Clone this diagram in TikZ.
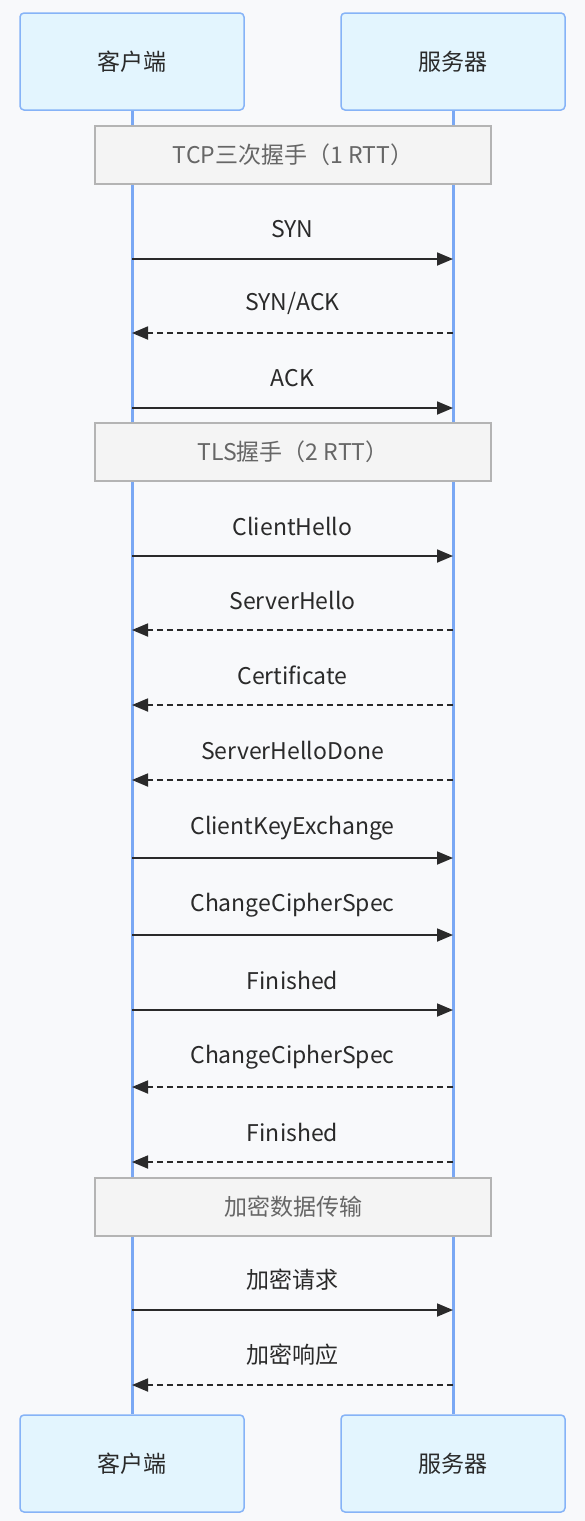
\documentclass[tikz,border=0pt]{standalone}
\usepackage{fontspec}
\setmainfont{Noto Sans CJK SC}
\usetikzlibrary{arrows.meta,positioning}
\definecolor{PageBg}{HTML}{F8F9FB}
\definecolor{ActorFill}{HTML}{E3F5FE}
\definecolor{ActorLine}{HTML}{86B3F7}
\definecolor{LifeLine}{HTML}{7AA8F4}
\definecolor{NoteFill}{HTML}{F4F4F4}
\definecolor{NoteLine}{HTML}{B4B4B4}
\definecolor{MsgInk}{HTML}{2A2A2A}
\definecolor{NoteInk}{HTML}{666666}

\tikzset{
  actor/.style={rectangle,rounded corners=4pt,draw=ActorLine,line width=1.5pt,
    fill=ActorFill,minimum width=224pt,minimum height=97pt,inner sep=0pt,
    font=\fontsize{23}{27}\selectfont,text=MsgInk},
  notebox/.style={rectangle,draw=NoteLine,line width=1.5pt,fill=NoteFill,
    minimum width=396pt,minimum height=58pt,inner sep=0pt,
    font=\fontsize{23}{27}\selectfont,text=NoteInk},
  msg/.style={draw=MsgInk,line width=1.8pt,-{Triangle[length=16pt,width=13pt]}},
  reply/.style={msg,dash pattern=on 6pt off 4pt},
  msglabel/.style={font=\fontsize{23}{27}\selectfont,text=MsgInk}
}

\begin{document}
\begin{tikzpicture}[x=1pt,y=-1pt]
  \fill[PageBg] (0,0) rectangle (585,1521);
  \useasboundingbox (0,0) rectangle (585,1521);

  % participants
  \node[actor] (client) at (132,61.5) {客户端};
  \node[actor] (server) at (453,61.5) {服务器};
  \node[actor] (clientB) at (132,1463.5) {客户端};
  \node[actor] (serverB) at (453,1463.5) {服务器};

  % lifelines
  \draw[LifeLine,line width=3pt] (client.south) -- (clientB.north);
  \draw[LifeLine,line width=3pt] (server.south) -- (serverB.north);

  % phases
  \node[notebox] (tcp) at (293,155) {TCP三次握手（1 RTT）};
  \node[notebox] (tls) at (293,452) {TLS握手（2 RTT）};
  \node[notebox] (data) at (293,1207) {加密数据传输};

  % messages: y / label / style
  \foreach \y/\txt/\kind [count=\i] in {
      259/SYN/c2s, 333/SYN\slash ACK/s2c, 408/ACK/c2s,
      556/ClientHello/c2s, 630/ServerHello/s2c, 705/Certificate/s2c,
      780/ServerHelloDone/s2c, 858/ClientKeyExchange/c2s,
      935/ChangeCipherSpec/c2s, 1010/Finished/c2s,
      1087/ChangeCipherSpec/s2c, 1162/Finished/s2c,
      1310/加密请求/c2s, 1385/加密响应/s2c} {
    \coordinate (c\i) at (132,\y);
    \coordinate (s\i) at (453,\y);
    \node[msglabel] (m\i) at (292.5,\y-30) {\txt};
    \ifnum\pdfstrcmp{\kind}{c2s}=0
      \draw[msg] (c\i) -- (s\i);
    \else
      \draw[reply] (s\i) -- (c\i);
    \fi
  }
\end{tikzpicture}
\end{document}
